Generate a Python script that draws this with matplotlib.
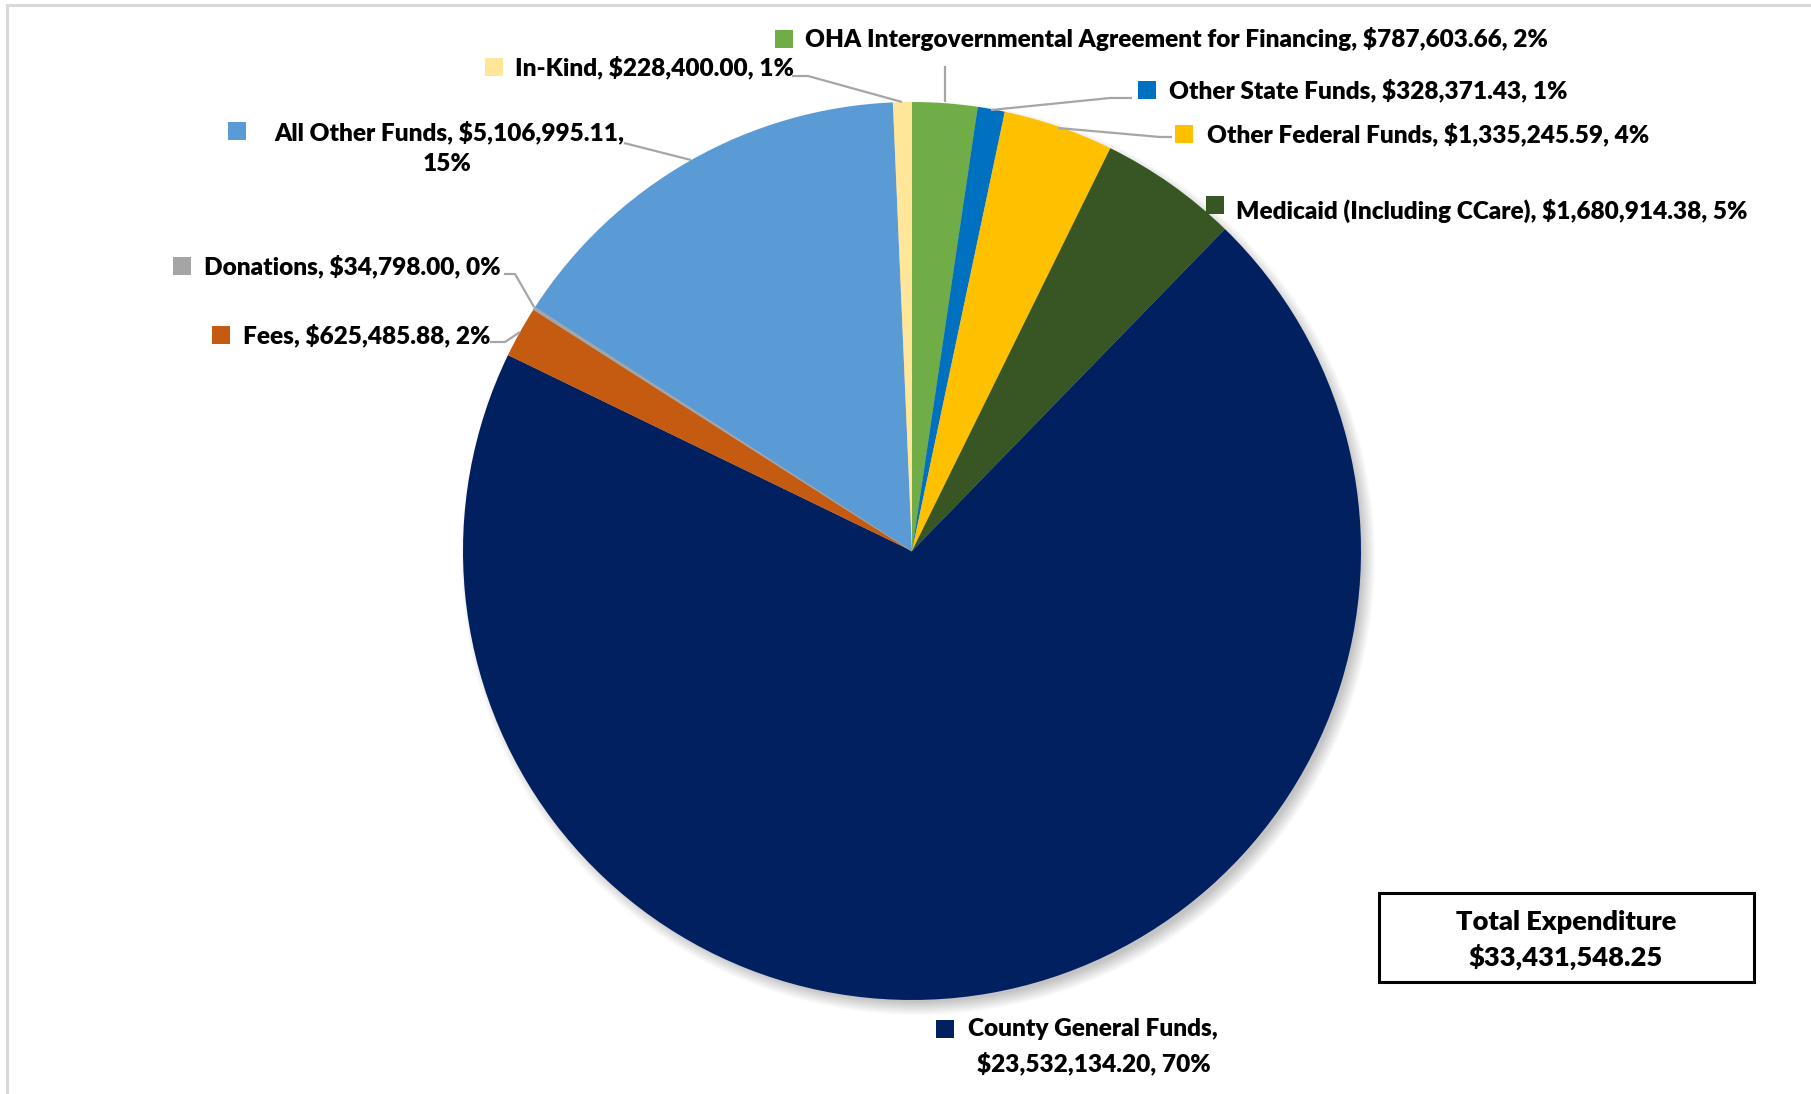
import matplotlib

matplotlib.use("Agg")
import matplotlib.pyplot as plt
from matplotlib.patches import Circle, Rectangle

W, H = 1811, 1094

# slices, clockwise from 12 o'clock
names = [
    "OHA Intergovernmental Agreement for Financing",
    "Other State Funds",
    "Other Federal Funds",
    "Medicaid (Including CCare)",
    "County General Funds",
    "Fees",
    "Donations",
    "All Other Funds",
    "In-Kind",
]
values = [
    787603.66,
    328371.43,
    1335245.59,
    1680914.38,
    23532134.20,
    625485.88,
    34798.00,
    5106995.11,
    228400.00,
]
colors = [
    "#70AD47",
    "#0070C0",
    "#FFC000",
    "#375623",
    "#002060",
    "#C55A11",
    "#A5A5A5",
    "#5B9BD5",
    "#FFE699",
]
TOTAL_EXPENDITURE = 33431548.25

FONT = ["Lato", "DejaVu Sans"]
FS = 17.6
WEIGHT = "heavy"
LEADER = "#A6A6A6"

CX, CY, R = 912, 551, 449


def Y(y):
    # pixel row (from top) -> data y
    return H - y


fig = plt.figure(figsize=(W / 100, H / 100), dpi=100)
fig.patch.set_facecolor("white")
ax = fig.add_axes([0, 0, 1, 1])

# outer chart frame (only top/left visible in the crop)
ax.add_patch(Rectangle((7, -20), W + 40, Y(5) + 20, fill=False,
                       edgecolor="#D9D9D9", lw=2.2, zorder=0))

# soft shadow lower-right
for k in range(12):
    ax.add_patch(Circle((CX + 6, Y(CY + 7)), R + 8 - k * 1.2, color="black",
                        alpha=0.018, lw=0, zorder=1))

wedges, _ = ax.pie(values, colors=colors, startangle=90, counterclock=False,
                   center=(CX, Y(CY)), radius=R, frame=True,
                   wedgeprops=dict(linewidth=0, zorder=2))
# thin separator seen between Donations and All Other
wedges[6].set_edgecolor("#A5A5A5")
wedges[6].set_linewidth(1.0)

ax.set_xlim(0, W)
ax.set_ylim(0, H)
ax.set_aspect("equal")
ax.axis("off")

total = sum(values)
labels = [f"{n}, ${v:,.2f}, {v / total * 100:.0f}%" for n, v in zip(names, values)]

# single-line labels: (marker x, text x, y)
single = {
    0: (784, 805, 39),
    1: (1147, 1169, 90),
    2: (1184, 1207, 134),
    3: (1215, 1236, 211),
    5: (221, 243, 335),
    6: (182, 204, 266),
    8: (494, 515, 67),
}
for i, (mx, tx, ty) in single.items():
    my = ty - 6 if i == 3 else ty
    ax.scatter(mx, Y(my), marker="s", s=150, color=colors[i], lw=0, zorder=5)
    ax.text(tx, Y(ty), labels[i], ha="left", va="center", fontsize=FS,
            fontweight=WEIGHT, family=FONT, color="black", zorder=5)

# All Other Funds: two lines
ax.scatter(237, Y(131), marker="s", s=150, color=colors[7], lw=0, zorder=5)
ax.text(274, Y(132), f"{names[7]}, ${values[7]:,.2f},", ha="left", va="center",
        fontsize=FS, fontweight=WEIGHT, family=FONT, color="black")
ax.text(447, Y(164), f"{values[7] / total * 100:.0f}%", ha="center", va="center",
        fontsize=FS, fontweight=WEIGHT, family=FONT, color="black")

# County General Funds: two lines
ax.scatter(945, Y(1029), marker="s", s=150, color=colors[4], lw=0, zorder=5)
ax.text(968, Y(1029), f"{names[4]},", ha="left", va="center",
        fontsize=FS, fontweight=WEIGHT, family=FONT, color="black")
ax.text(1094, Y(1063), f"${values[4]:,.2f}, {values[4] / total * 100:.0f}%",
        ha="center", va="center", fontsize=FS, fontweight=WEIGHT, family=FONT,
        color="black")

# leader lines (pixel coords)
leaders = [
    [(945, 66), (945, 102)],
    [(792, 76), (808, 76), (902, 102)],
    [(991, 110), (1110, 98), (1132, 98)],
    [(1058, 128), (1160, 137), (1172, 137)],
    [(504, 274), (515, 274), (534, 307)],
    [(490, 342), (505, 342), (520, 332)],
    [(624, 143), (691, 160)],
]
for pts in leaders:
    xs = [p[0] for p in pts]
    ys = [Y(p[1]) for p in pts]
    ax.plot(xs, ys, color=LEADER, lw=1.6, zorder=4, solid_capstyle="butt")

# total box
ax.add_patch(Rectangle((1379, Y(982)), 375, 89, fill=True, facecolor="white",
                       edgecolor="black", lw=2.2, zorder=5))
ax.text(1566, Y(922), "Total Expenditure", ha="center", va="center",
        fontsize=19.6, fontweight=WEIGHT, family=FONT, zorder=6)
ax.text(1566, Y(957), f"${TOTAL_EXPENDITURE:,.2f}", ha="center", va="center",
        fontsize=19.6, fontweight=WEIGHT, family=FONT, zorder=6)

fig.savefig("out.png", dpi=100, facecolor="white")
